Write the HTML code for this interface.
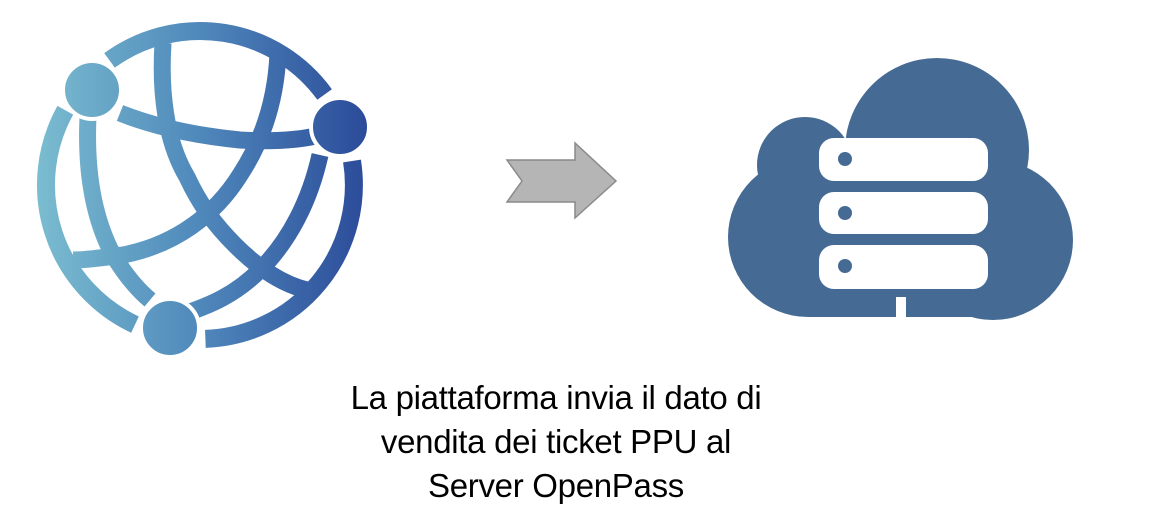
<!DOCTYPE html>
<html><head><style>
body{margin:0;width:1156px;height:523px;background:#fff;overflow:hidden;position:relative}
.t{position:absolute;left:206px;width:700px;top:376px;text-align:center;font-family:"Liberation Sans",sans-serif;font-size:33px;line-height:44px;color:#000;letter-spacing:-0.3px}
</style></head><body>
<svg width="1156" height="523" style="position:absolute;left:0;top:0">
<defs><linearGradient id="g" x1="35" y1="0" x2="365" y2="0" gradientUnits="userSpaceOnUse">
<stop offset="0" stop-color="#7bbdd0"/><stop offset="0.5" stop-color="#4f88bb"/><stop offset="1" stop-color="#2c4c9a"/></linearGradient></defs>
<g fill="none" stroke="url(#g)" stroke-width="18" stroke-linecap="butt">
<path d="M109.5 60.4 A154 154 0 0 1 324.6 94.5"/>
<path d="M65.3 110.3 A154 154 0 0 0 135 324.6"/>
<path d="M205.4 338.9 A154 154 0 0 0 352 161"/>
</g>
<g fill="none" stroke="url(#g)" stroke-width="17" stroke-linecap="butt">
<path d="M88 117 C86 160 90 210 112 253 C125 275 138 290 150 300"/>
<path d="M163 43 C160 90 165 140 187 177 C200 205 215 225 235 245 C260 270 285 285 307 290"/>
<path d="M278 53 C276 100 263 140 240 175 C215 215 175 245 123 255 C100 258 85 260 73 260"/>
<path d="M120 113 C150 125 190 135 240 140 C275 142 300 140 320 135"/>
<path d="M320 155 C310 200 290 240 260 270 C235 295 210 305 187 313"/>
</g>
<g fill="url(#g)" stroke="#fff" stroke-width="4">
<circle cx="92" cy="90" r="29"/><circle cx="340" cy="127" r="29"/><circle cx="170" cy="328" r="29"/>
</g>
<polygon points="507,160 575,160 575,143 616,181 575,218 575,202 507,202 522,181" fill="#b5b5b5" stroke="#8a8a8a" stroke-width="1.5"/>
<g fill="#456b94">
<circle cx="937" cy="150" r="92"/><circle cx="805" cy="165" r="48"/>
<circle cx="808" cy="237" r="80"/><circle cx="993" cy="240" r="80"/>
<rect x="808" y="150" width="185" height="167"/>
</g>
<g fill="#fff">
<rect x="819" y="138" width="169" height="43" rx="15"/>
<rect x="819" y="192" width="169" height="42" rx="15"/>
<rect x="819" y="245" width="169" height="44" rx="15"/>
<rect x="896" y="297" width="10" height="21"/>
</g>
<g fill="#456b94"><circle cx="845" cy="159" r="7"/><circle cx="845" cy="213" r="7"/><circle cx="845" cy="266" r="7"/></g>
</svg>
<div class="t">La piattaforma invia il dato di<br>vendita dei ticket PPU al<br>Server OpenPass</div>
</body></html>
